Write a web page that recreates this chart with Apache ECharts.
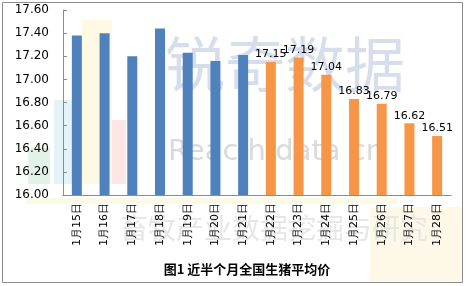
<!DOCTYPE html>
<html><head><meta charset="utf-8">
<script src="https://cdn.jsdelivr.net/npm/echarts@6/dist/echarts.min.js"></script>
<style>html,body{margin:0;padding:0;background:#fff}#c{width:466px;height:286px}</style>
</head><body><div id="c"></div>
<script>
var categories = ['1月15日','1月16日','1月17日','1月18日','1月19日','1月20日','1月21日','1月22日','1月23日','1月24日','1月25日','1月26日','1月27日','1月28日'];
var blueValues = [17.38, 17.40, 17.20, 17.44, 17.23, 17.16, 17.21, null, null, null, null, null, null, null];
var orangeValues = [null, null, null, null, null, null, null, 17.15, 17.19, 17.04, 16.83, 16.79, 16.62, 16.51];
var yMin = 16.0, yMax = 17.6, yStep = 0.2;
var title = '图1 近半个月全国生猪平均价';

var chart = echarts.init(document.getElementById('c'), null, {renderer:'canvas'});
chart.setOption({
  animation:false,
  backgroundColor:'#ffffff',
  title:{text:title,left:242,textAlign:'center',top:258,
    textStyle:{fontFamily:'Noto Sans CJK SC',fontWeight:'bold',fontSize:13,color:'#000'}},
  grid:{left:63,right:15,top:10,bottom:91},
  graphic:[
    {type:'rect',z:-10,shape:{x:2.5,y:2.5,width:460,height:280},style:{fill:'none',stroke:'#8c8c8c',lineWidth:1}},
    {type:'rect',z:-9,shape:{x:28,y:148,width:22,height:36},style:{fill:'#e2f2e6'}},
    {type:'rect',z:-9,shape:{x:54,y:100,width:18,height:84},style:{fill:'#e4f4f6'}},
    {type:'rect',z:-9,shape:{x:82,y:20,width:30,height:164},style:{fill:'#fef9e2'}},
    {type:'rect',z:-9,shape:{x:112,y:120,width:14,height:64},style:{fill:'#fce6e6'}},
    {type:'rect',z:-9,shape:{x:26,y:198,width:372,height:6},style:{fill:'#fbfae6'}},
    {type:'rect',z:-9,shape:{x:370,y:207,width:92,height:75},style:{fill:'#fdf8e8'}},
    {type:'text',z:-8,left:165,top:34,style:{text:'锐奇数据',font:'60px "Noto Sans CJK SC"',fill:'#d6deec'}},
    {type:'text',z:-8,left:168,top:138,style:{text:'Reac h data cn',font:'29px "DejaVu Sans"',fill:'#dadada'}},
    {type:'text',z:-8,left:120,top:214,style:{text:'畜牧产业数据挖掘与研究',font:'28px "Noto Sans CJK SC"',fill:'#e6e6e6'}}
  ],
  xAxis:{type:'category',data:categories,
    axisLine:{lineStyle:{color:'#8c8c8c'}},
    axisTick:{inside:true,length:4,lineStyle:{color:'#8c8c8c'}},
    axisLabel:{rotate:90,interval:0,margin:8,fontSize:11,fontFamily:'DejaVu Sans',color:'#000'}},
  yAxis:{type:'value',min:yMin,max:yMax,interval:yStep,
    splitLine:{show:false},
    axisLine:{show:true,lineStyle:{color:'#8c8c8c'}},
    axisTick:{show:true,inside:true,length:4,lineStyle:{color:'#8c8c8c'}},
    axisLabel:{margin:14,fontSize:12,fontFamily:'DejaVu Sans',color:'#000',formatter:function(v){return v.toFixed(2);}}},
  series:[
    {type:'bar',data:blueValues,barWidth:10,barGap:'-100%',itemStyle:{color:'#4f81bd'}},
    {type:'bar',data:orangeValues,barWidth:10,itemStyle:{color:'#f79646'},
      label:{show:true,position:'top',distance:2,fontSize:11,fontFamily:'DejaVu Sans',color:'#000',formatter:function(p){return p.value.toFixed(2);}}}
  ]
});
</script></body></html>
